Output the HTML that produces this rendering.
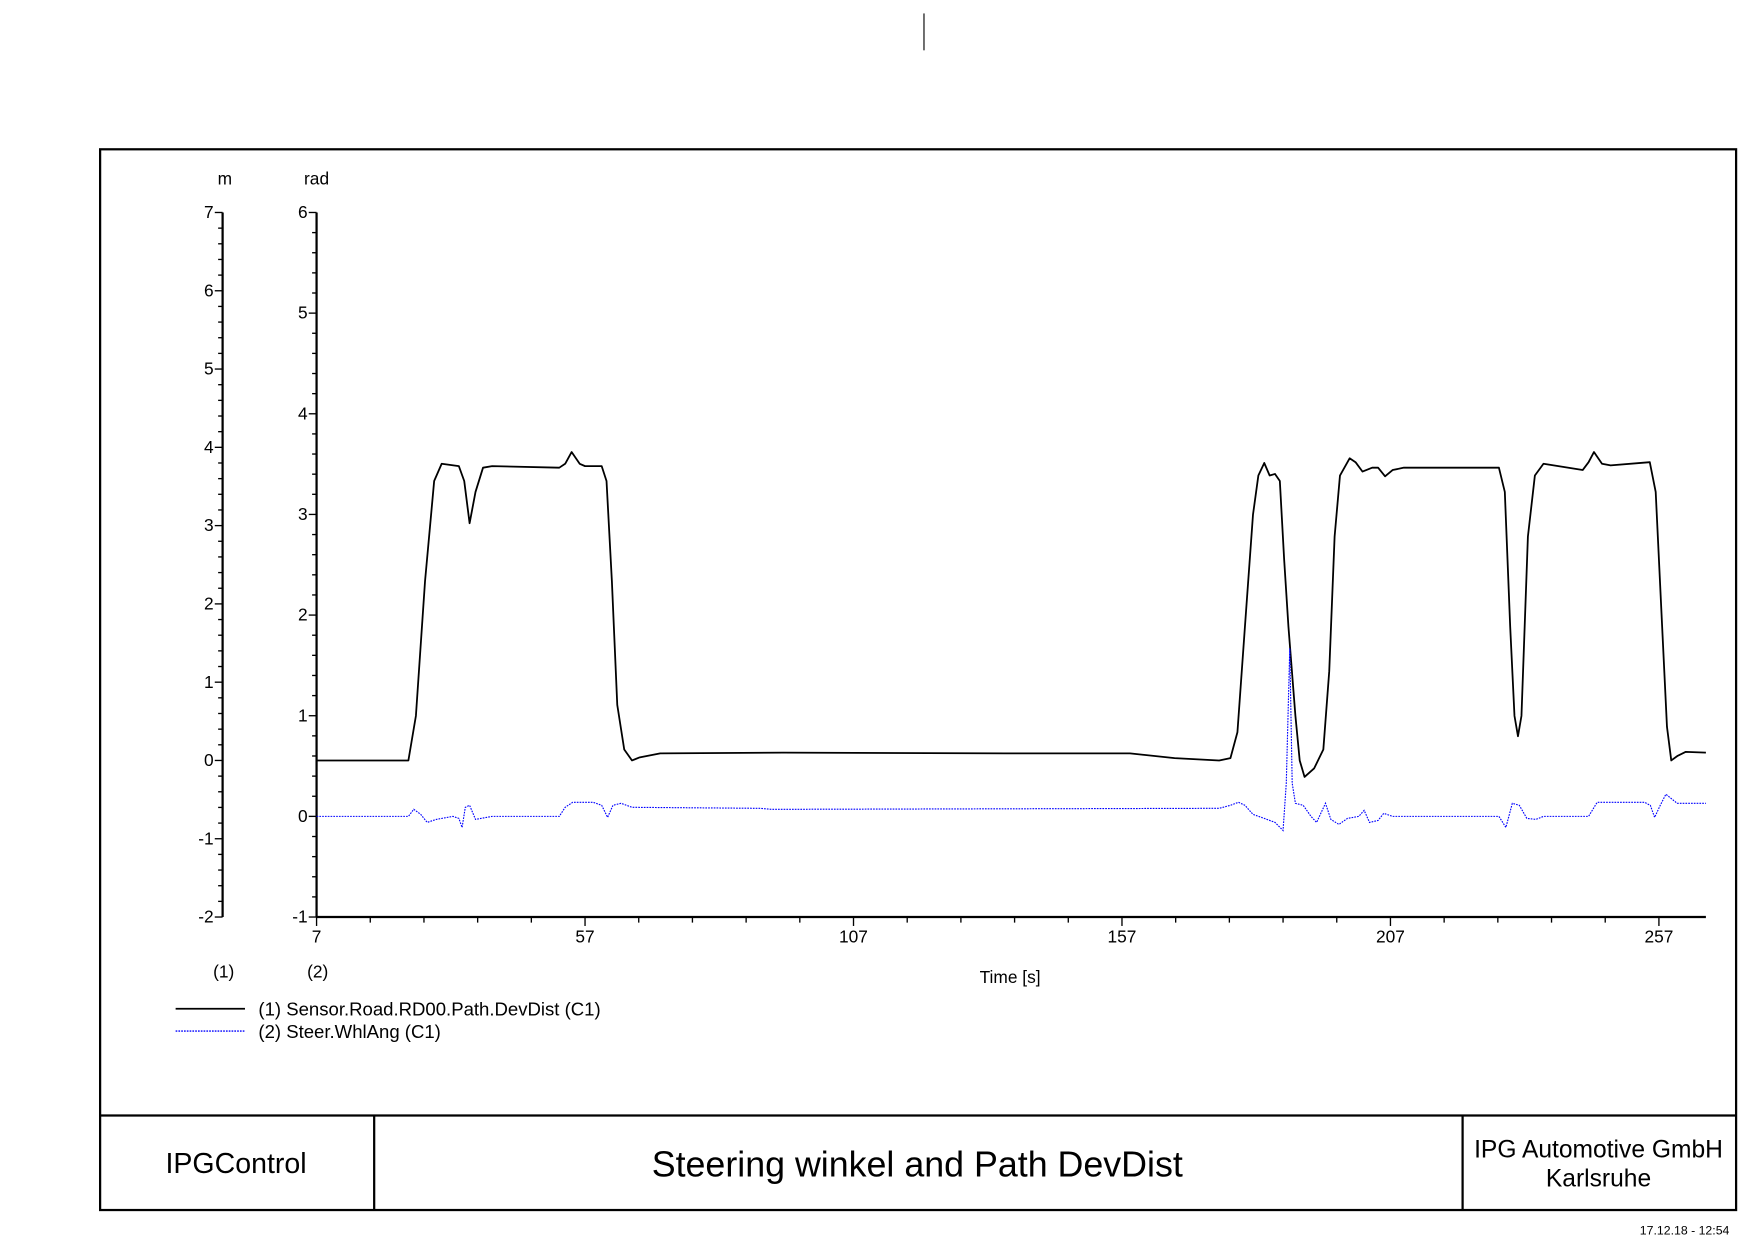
<!DOCTYPE html>
<html><head><meta charset="utf-8"><style>
html,body{margin:0;padding:0;background:#fff;}
svg{display:block;font-family:"Liberation Sans",Arial,sans-serif;}
</style></head><body>
<svg id="chart" width="1754" height="1240" viewBox="0 0 1568 1108.8" preserveAspectRatio="none" xmlns="http://www.w3.org/2000/svg">
<line x1="826" y1="12" x2="826" y2="45" stroke="#000" stroke-width="1"/>
<rect x="89.5" y="133.5" width="1462.5" height="948.5" fill="none" stroke="#000" stroke-width="2"/>
<line x1="89" y1="997.5" x2="1552" y2="997.5" stroke="#000" stroke-width="2"/>
<line x1="334.5" y1="997" x2="334.5" y2="1082" stroke="#000" stroke-width="2"/>
<line x1="1307.5" y1="997" x2="1307.5" y2="1082" stroke="#000" stroke-width="2"/>
<text x="211" y="1049" font-size="25.5" text-anchor="middle">IPGControl</text>
<text x="820" y="1052" font-size="32" text-anchor="middle">Steering winkel and Path DevDist</text>
<text x="1429" y="1035" font-size="22" text-anchor="middle">IPG Automotive GmbH</text>
<text x="1429" y="1061" font-size="22" text-anchor="middle">Karlsruhe</text>
<text x="1546" y="1108" font-size="11" text-anchor="end" dy="-4">17.12.18 - 12:54</text>
<text x="201" y="165" font-size="15.5" text-anchor="middle">m</text>
<text x="283" y="165" font-size="15.5" text-anchor="middle">rad</text>
<text x="200" y="874" font-size="15.5" text-anchor="middle">(1)</text>
<text x="284" y="874" font-size="15.5" text-anchor="middle">(2)</text>
<text x="903" y="879" font-size="15.5" text-anchor="middle">Time [s]</text>
<g>
<line x1="157" y1="902" x2="219" y2="902" stroke="#000" stroke-width="1.5"/>
<text x="231" y="908" font-size="16.6">(1) Sensor.Road.RD00.Path.DevDist (C1)</text>
<line x1="157" y1="922" x2="219" y2="922" stroke="#00f" stroke-width="1.2" stroke-dasharray="1.5,1"/>
<text x="231" y="928" font-size="16.6">(2) Steer.WhlAng (C1)</text>
</g>
<g id="axes"></g>
<g id="series"></g>
</svg>
<script>
const devT=[7,24.1,25.5,27.2,28.9,30.3,33.5,34.5,35.5,36.6,38.0,39.7,52.2,53.3,54.5,56.0,57.0,60.1,61.0,62.0,63.0,64.3,65.75,67.2,71.0,93.9,135.5,158.5,166.8,175.1,177.2,178.5,179.9,181.4,182.4,183.5,184.5,185.5,186.4,187.2,188.0,189.3,190.1,191.0,192.8,194.5,195.6,196.6,197.6,199.4,200.5,201.8,203.6,204.7,206.0,207.4,209.5,227.2,228.3,229.3,230.1,230.75,231.4,232.6,233.9,235.5,242.8,243.9,244.9,246.4,248.0,255.3,256.4,257.6,258.5,259.3,260.5,262.0,265.75];
const devV=[0,0,0.57,2.29,3.57,3.79,3.76,3.57,3.03,3.43,3.74,3.76,3.74,3.79,3.94,3.79,3.76,3.76,3.57,2.29,0.71,0.14,0,0.04,0.09,0.1,0.09,0.09,0.03,0,0.03,0.36,1.71,3.14,3.64,3.8,3.64,3.66,3.57,2.57,1.71,0.57,0,-0.21,-0.1,0.14,1.14,2.86,3.64,3.86,3.81,3.69,3.74,3.74,3.63,3.71,3.74,3.74,3.43,1.71,0.57,0.31,0.57,2.86,3.64,3.79,3.71,3.81,3.94,3.79,3.77,3.81,3.43,1.71,0.43,0,0.06,0.11,0.1];
const angT=[7,24.1,25.1,26.4,27.6,29.3,32.4,33.5,34.1,34.7,35.5,36.6,37.6,39.7,52.2,53.3,54.7,58.5,60.1,61.2,62.2,63.7,65.75,89.7,91.8,175.1,177.2,178.7,179.9,181.4,183.5,185.5,187.0,187.6,188.25,188.7,189.3,190.75,192.2,193.25,194.9,195.9,197.4,199.0,201.1,202.1,203.1,204.7,205.75,207.4,227.2,228.5,229.7,231.0,232.4,234.1,235.5,243.9,245.5,254.3,255.4,256.2,257.25,258.3,260.4,265.75];
const angV=[0,0,0.07,0.02,-0.06,-0.03,0,-0.02,-0.11,0.09,0.11,-0.03,-0.02,0,0,0.09,0.14,0.14,0.11,-0.01,0.11,0.13,0.09,0.08,0.07,0.08,0.11,0.14,0.11,0.02,-0.02,-0.06,-0.14,0.33,1.67,0.33,0.13,0.11,0,-0.06,0.13,-0.03,-0.08,-0.02,0,0.06,-0.06,-0.04,0.03,0,0,-0.11,0.13,0.11,-0.02,-0.03,0,0,0.14,0.14,0.11,-0.01,0.11,0.22,0.13,0.13];
const xTickLabels=[7,57,107,157,207,257];
const leftTickLabels=[-2,-1,0,1,2,3,4,5,6,7];
const rightTickLabels=[-1,0,1,2,3,4,5,6];

const NS="http://www.w3.org/2000/svg";
const X0=283,X1=1525,XA=283,PXS=4.8;
const xs=t=>XA+(t-7)*PXS;
const yL=v=>680-v*70;
const yR=v=>730-v*90;
const axes=document.getElementById('axes'),series=document.getElementById('series');
function mk(tag,attrs,parent){const e=document.createElementNS(NS,tag);for(const k in attrs)e.setAttribute(k,attrs[k]);parent.appendChild(e);return e;}
let ax=mk('line',{x1:X0,y1:820,x2:X1,y2:820,stroke:'#000','stroke-width':2},axes);


for(let t=7;t<=265;t+=10){const l=mk('line',{x1:xs(t),y1:820,x2:xs(t),y2:(xTickLabels.includes(t)?828:825),stroke:'#000','stroke-width':1.2},axes);

}
xTickLabels.forEach(t=>{const e=mk('text',{x:xs(t),y:843,'font-size':15.5,'text-anchor':'middle'},axes);e.textContent=t;

});
let la=mk('line',{x1:199,y1:yL(7),x2:199,y2:yL(-2),stroke:'#000','stroke-width':2},axes);


for(let i=-10;i<=35;i++){const v=i*0.2;const maj=i%5===0;const l=mk('line',{x1:maj?192:195,y1:yL(v),x2:199,y2:yL(v),stroke:'#000','stroke-width':1.2},axes);

}
leftTickLabels.forEach(v=>{const e=mk('text',{x:191,y:yL(v)+5,'font-size':15.5,'text-anchor':'end'},axes);e.textContent=v;

});
let ra=mk('line',{x1:283,y1:yR(6),x2:283,y2:yR(-1),stroke:'#000','stroke-width':2},axes);


for(let i=-5;i<=30;i++){const v=i*0.2;const maj=i%5===0;const l=mk('line',{x1:maj?276:279,y1:yR(v),x2:283,y2:yR(v),stroke:'#000','stroke-width':1.2},axes);

}
rightTickLabels.forEach(v=>{const e=mk('text',{x:275,y:yR(v)+5,'font-size':15.5,'text-anchor':'end'},axes);e.textContent=v;

});
const p1=mk('polyline',{points:devT.map((t,i)=>xs(t)+','+yL(devV[i])).join(' '),fill:'none',stroke:'#000','stroke-width':1.6,'stroke-linejoin':'round'},series);


const p2=mk('polyline',{points:angT.map((t,i)=>xs(t)+','+yR(angV[i])).join(' '),fill:'none',stroke:'#00f','stroke-width':1,'stroke-dasharray':'1.5,1'},series);


</script>
</body></html>
